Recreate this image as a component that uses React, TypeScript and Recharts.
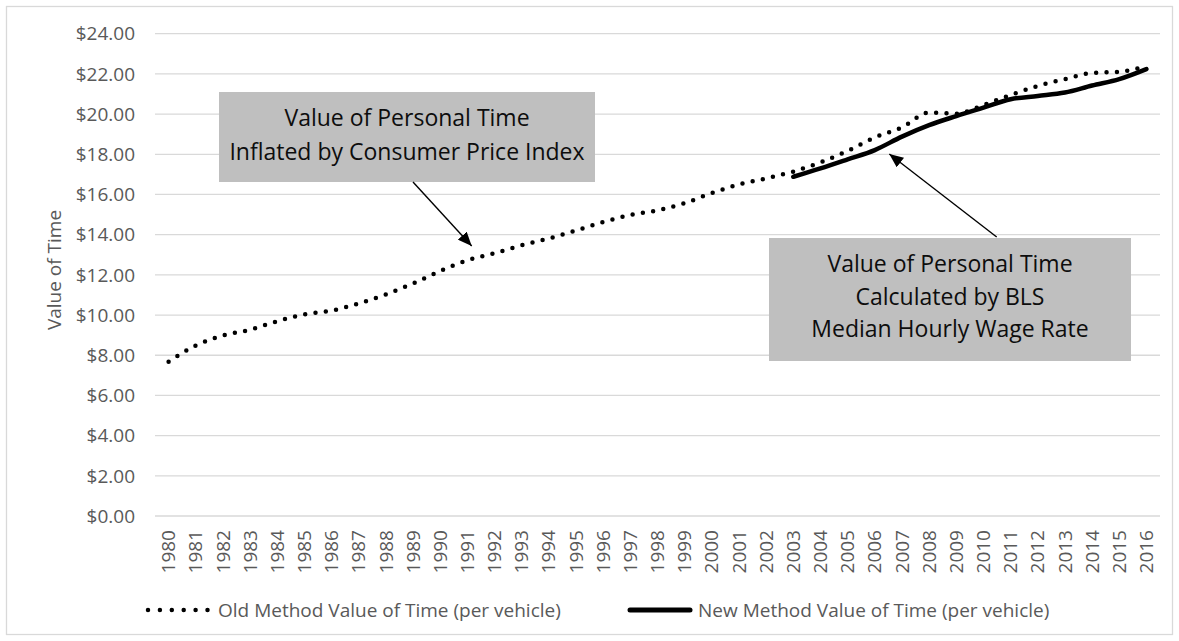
import React from 'react';
import { LineChart, Line, XAxis, YAxis, CartesianGrid, Legend } from 'recharts';

const years = [
  '1980', '1981', '1982', '1983', '1984', '1985', '1986', '1987', '1988', '1989',
  '1990', '1991', '1992', '1993', '1994', '1995', '1996', '1997', '1998', '1999',
  '2000', '2001', '2002', '2003', '2004', '2005', '2006', '2007', '2008', '2009',
  '2010', '2011', '2012', '2013', '2014', '2015', '2016',
];

const oldMethod = [
  7.68, 8.48, 8.98, 9.27, 9.69, 10.03, 10.22, 10.58, 11.03, 11.57,
  12.19, 12.72, 13.08, 13.47, 13.81, 14.21, 14.63, 14.98, 15.21, 15.57,
  16.07, 16.5, 16.8, 17.14, 17.6, 18.17, 18.84, 19.34, 20.08, 20.02,
  20.45, 20.95, 21.4, 21.74, 22.05, 22.1, 22.4,
];

const newMethod: (number | null)[] = [
  null, null, null, null, null, null, null, null, null, null,
  null, null, null, null, null, null, null, null, null, null,
  null, null, null, 16.88, 17.3, 17.75, 18.21, 18.88, 19.45, 19.9,
  20.32, 20.74, 20.9, 21.07, 21.42, 21.74, 22.24,
];

const yTicks = [0, 2, 4, 6, 8, 10, 12, 14, 16, 18, 20, 22, 24];

const oldLabel = 'Old Method Value of Time (per vehicle)';
const newLabel = 'New Method Value of Time (per vehicle)';
const yTitle = 'Value of Time';
const note1 = ['Value of Personal Time', 'Inflated by Consumer Price Index'];
const note2 = ['Value of Personal Time', 'Calculated by BLS', 'Median Hourly Wage Rate'];

const data = years.map((y, i) => ({ year: y, old: oldMethod[i], neu: newMethod[i] }));

const FONT = '"Open Sans", "Noto Sans", sans-serif';
const GRAY = '#595959';

const XTick = (props: any) => {
  const { x, y, payload } = props;
  return (
    <text
      x={x}
      y={y}
      transform={`rotate(-90 ${x} ${y})`}
      textAnchor="end"
      dy="0.35em"
      fill={GRAY}
      fontSize={19}
      fontFamily={FONT}
    >
      {payload.value}
    </text>
  );
};

const renderLegend = () => (
  <svg width={1179} height={30} style={{ display: 'block' }}>
    <line x1={148} x2={208} y1={15} y2={15} stroke="#000" strokeWidth={4.5}
      strokeDasharray="0 11.9" strokeLinecap="round" />
    <text x={218} y={15} dy="0.35em" fill={GRAY} fontSize={19} fontFamily={FONT}>{oldLabel}</text>
    <line x1={630} x2={690} y1={15} y2={15} stroke="#000" strokeWidth={5} strokeLinecap="round" />
    <text x={698} y={15} dy="0.35em" fill={GRAY} fontSize={19} fontFamily={FONT}>{newLabel}</text>
  </svg>
);

export default function App() {
  return (
    <div style={{ position: 'absolute', left: 0, top: 0, width: 1179, height: 641, background: '#fff' }}>
      <LineChart
        width={1179}
        height={641}
        data={data}
        margin={{ top: 33.7, right: 19, bottom: 65, left: 85 }}
      >
        <CartesianGrid vertical={false} stroke="#d9d9d9" strokeWidth={1.3} />
        <XAxis
          dataKey="year"
          interval={0}
          height={60}
          axisLine={false}
          tickLine={false}
          tickSize={0}
          tickMargin={14}
          padding={{ left: 13.6, right: 13.6 }}
          tick={<XTick />}
        />
        <YAxis
          width={70}
          domain={[0, 24]}
          ticks={yTicks}
          interval={0}
          axisLine={false}
          tickLine={false}
          tickSize={0}
          tickMargin={20}
          tick={{ fill: GRAY, fontSize: 19, fontFamily: FONT }}
          tickFormatter={(v: number) => `$${v.toFixed(2)}`}
          label={{
            content: () => (
              <text
                x={54}
                y={270}
                transform="rotate(-90 54 270)"
                textAnchor="middle"
                dy="0.35em"
                fill={GRAY}
                fontSize={19}
                fontFamily={FONT}
              >
                {yTitle}
              </text>
            ),
          }}
        />
        <Legend
          layout="horizontal"
          verticalAlign="middle"
          align="center"
          wrapperStyle={{ top: 595, left: 0, width: 1179, height: 30 }}
          content={renderLegend}
        />
        <Line
          type="monotone"
          dataKey="old"
          name={oldLabel}
          stroke="#000"
          strokeWidth={4.5}
          strokeDasharray="0 10.4"
          strokeLinecap="round"
          dot={false}
          activeDot={false}
          isAnimationActive={false}
        />
        <Line
          type="monotone"
          dataKey="neu"
          name={newLabel}
          stroke="#000"
          strokeWidth={4.5}
          strokeLinecap="round"
          dot={false}
          activeDot={false}
          isAnimationActive={false}
        />
      </LineChart>
      <svg
        width={1179}
        height={641}
        style={{ position: 'absolute', left: 0, top: 0, pointerEvents: 'none' }}
      >
        <defs>
          <marker id="arrowHead" markerUnits="userSpaceOnUse" markerWidth={16} markerHeight={12}
            refX={14} refY={6} orient="auto">
            <path d="M0,0 L14,6 L0,12 z" fill="#000" />
          </marker>
        </defs>
        <rect x={6.5} y={6.5} width={1166} height={628} fill="none" stroke="#d9d9d9" strokeWidth={1.3} />
        <rect x={219} y={92} width={376} height={90} fill="#bfbfbf" />
        {note1.map((t, i) => (
          <text key={i} x={407} y={118 + i * 33.5} dy="0.35em" textAnchor="middle"
            fill="#0d0d0d" fontSize={23} fontFamily={FONT}>{t}</text>
        ))}
        <rect x={769} y={238} width={362} height={123} fill="#bfbfbf" />
        {note2.map((t, i) => (
          <text key={i} x={950} y={264 + i * 32.7} dy="0.35em" textAnchor="middle"
            fill="#0d0d0d" fontSize={23} fontFamily={FONT}>{t}</text>
        ))}
        <line x1={413} y1={182} x2={471.7} y2={246} stroke="#000" strokeWidth={1.4} markerEnd="url(#arrowHead)" />
        <line x1={996.7} y1={237} x2={889.3} y2={154} stroke="#000" strokeWidth={1.4} markerEnd="url(#arrowHead)" />
      </svg>
    </div>
  );
}
